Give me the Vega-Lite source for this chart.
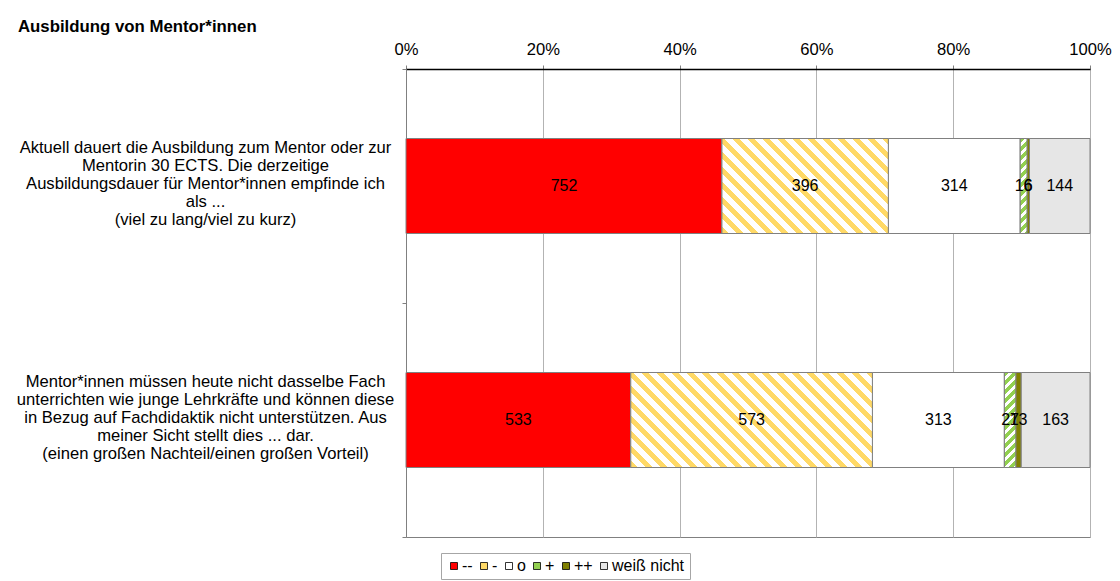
{
  "$schema": "https://vega.github.io/schema/vega-lite/v6.json",
  "width": 684,
  "height": 468,
  "autosize": {"type": "none"},
  "padding": {"left": 406, "top": 69, "right": 30, "bottom": 44},
  "background": "white",
  "title": {"text": "Ausbildung von Mentor*innen", "anchor": "start", "frame": "group", "dx": -388, "offset": 5, "font": "Liberation Sans", "fontSize": 16.8, "fontWeight": "bold", "color": "black"},
  "config": {"font": "Liberation Sans", "view": {"stroke": "#808080", "strokeWidth": 1}},
  "data": {"values": [
    {"q": "Aktuell dauert die Ausbildung zum Mentor oder zur|Mentorin 30 ECTS. Die derzeitige|Ausbildungsdauer für Mentor*innen empfinde ich|als ...|(viel zu lang/viel zu kurz)", "a": "--", "k": 1, "n": 752},
    {"q": "Aktuell dauert die Ausbildung zum Mentor oder zur|Mentorin 30 ECTS. Die derzeitige|Ausbildungsdauer für Mentor*innen empfinde ich|als ...|(viel zu lang/viel zu kurz)", "a": "-", "k": 2, "n": 396},
    {"q": "Aktuell dauert die Ausbildung zum Mentor oder zur|Mentorin 30 ECTS. Die derzeitige|Ausbildungsdauer für Mentor*innen empfinde ich|als ...|(viel zu lang/viel zu kurz)", "a": "o", "k": 3, "n": 314},
    {"q": "Aktuell dauert die Ausbildung zum Mentor oder zur|Mentorin 30 ECTS. Die derzeitige|Ausbildungsdauer für Mentor*innen empfinde ich|als ...|(viel zu lang/viel zu kurz)", "a": "+", "k": 4, "n": 16},
    {"q": "Aktuell dauert die Ausbildung zum Mentor oder zur|Mentorin 30 ECTS. Die derzeitige|Ausbildungsdauer für Mentor*innen empfinde ich|als ...|(viel zu lang/viel zu kurz)", "a": "++", "k": 5, "n": 6},
    {"q": "Aktuell dauert die Ausbildung zum Mentor oder zur|Mentorin 30 ECTS. Die derzeitige|Ausbildungsdauer für Mentor*innen empfinde ich|als ...|(viel zu lang/viel zu kurz)", "a": "weiß nicht", "k": 6, "n": 144},
    {"q": "Mentor*innen müssen heute nicht dasselbe Fach|unterrichten wie junge Lehrkräfte und können diese|in Bezug auf Fachdidaktik nicht unterstützen. Aus|meiner Sicht stellt dies ... dar.|(einen großen Nachteil/einen großen Vorteil)", "a": "--", "k": 1, "n": 533},
    {"q": "Mentor*innen müssen heute nicht dasselbe Fach|unterrichten wie junge Lehrkräfte und können diese|in Bezug auf Fachdidaktik nicht unterstützen. Aus|meiner Sicht stellt dies ... dar.|(einen großen Nachteil/einen großen Vorteil)", "a": "-", "k": 2, "n": 573},
    {"q": "Mentor*innen müssen heute nicht dasselbe Fach|unterrichten wie junge Lehrkräfte und können diese|in Bezug auf Fachdidaktik nicht unterstützen. Aus|meiner Sicht stellt dies ... dar.|(einen großen Nachteil/einen großen Vorteil)", "a": "o", "k": 3, "n": 313},
    {"q": "Mentor*innen müssen heute nicht dasselbe Fach|unterrichten wie junge Lehrkräfte und können diese|in Bezug auf Fachdidaktik nicht unterstützen. Aus|meiner Sicht stellt dies ... dar.|(einen großen Nachteil/einen großen Vorteil)", "a": "+", "k": 4, "n": 27},
    {"q": "Mentor*innen müssen heute nicht dasselbe Fach|unterrichten wie junge Lehrkräfte und können diese|in Bezug auf Fachdidaktik nicht unterstützen. Aus|meiner Sicht stellt dies ... dar.|(einen großen Nachteil/einen großen Vorteil)", "a": "++", "k": 5, "n": 13},
    {"q": "Mentor*innen müssen heute nicht dasselbe Fach|unterrichten wie junge Lehrkräfte und können diese|in Bezug auf Fachdidaktik nicht unterstützen. Aus|meiner Sicht stellt dies ... dar.|(einen großen Nachteil/einen großen Vorteil)", "a": "weiß nicht", "k": 6, "n": 163}
  ]},
  "encoding": {
    "y": {"field": "q", "type": "nominal", "sort": null, "scale": {"paddingInner": 0, "paddingOuter": 0},
      "axis": {"title": null, "labelExpr": "datum.value ? split(datum.value, '|') : ''", "labelAlign": "center", "labelBaseline": "middle", "labelPadding": 197, "labelOffset": -39, "labelLimit": 0, "labelFontSize": 16.6, "labelFont": "Liberation Sans", "labelColor": "black", "labelLineHeight": 18, "tickBand": "extent", "tickSize": 4, "tickColor": "#808080", "domainColor": "#808080", "labelOverlap": false}},
    "x": {"field": "n", "type": "quantitative", "stack": "normalize", "scale": {"domain": [0, 1], "nice": false},
      "axis": {"orient": "top", "title": null, "values": [0, 0.2, 0.4, 0.6, 0.8, 1], "format": ".0%", "labelFontSize": 16.6, "labelFont": "Liberation Sans", "labelColor": "black", "labelPadding": 8, "labelFlush": false, "tickSize": 4, "tickColor": "#808080", "domainColor": "black", "domainWidth": 1.5, "grid": true, "gridColor": "#B3B3B3", "gridWidth": 1}},
    "order": {"field": "k", "type": "quantitative"}
  },
  "layer": [
    {
      "mark": {"type": "bar", "size": 95, "stroke": "#808080", "strokeWidth": 1},
      "encoding": {
        "color": {"field": "a", "type": "nominal",
          "scale": {"domain": ["--", "-", "o", "+", "++", "weiß nicht"], "range": ["#FF0000", "#FFD966", "#FFFFFF", "#92D050", "#808000", "#E6E6E6"]},
          "legend": {"orient": "none", "legendX": 35, "legendY": 484, "direction": "horizontal", "title": null, "symbolType": "square", "symbolSize": 49, "symbolStrokeColor": "black", "symbolStrokeWidth": 0.8, "symbolOpacity": 1, "labelFontSize": 16, "labelFont": "Liberation Sans", "labelColor": "black", "labelOffset": 0, "columnPadding": 3, "strokeColor": "#A6A6A6", "padding": 5}}
      }
    },
    {
      "mark": {"type": "bar", "size": 95, "stroke": "#808080", "strokeWidth": 1,
        "fill": {"gradient": "linear", "x1": 0, "y1": 1, "x2": 1.541, "y2": 0.1202, "stops": [
          {"offset": 0, "color": "#FFD966"}, {"offset": 0.0221, "color": "#FFD966"}, {"offset": 0.0221, "color": "#FFFFFF"}, {"offset": 0.0441, "color": "#FFFFFF"},
          {"offset": 0.0441, "color": "#FFD966"}, {"offset": 0.0662, "color": "#FFD966"}, {"offset": 0.0662, "color": "#FFFFFF"}, {"offset": 0.0882, "color": "#FFFFFF"},
          {"offset": 0.0882, "color": "#FFD966"}, {"offset": 0.1103, "color": "#FFD966"}, {"offset": 0.1103, "color": "#FFFFFF"}, {"offset": 0.1324, "color": "#FFFFFF"},
          {"offset": 0.1324, "color": "#FFD966"}, {"offset": 0.1544, "color": "#FFD966"}, {"offset": 0.1544, "color": "#FFFFFF"}, {"offset": 0.1765, "color": "#FFFFFF"},
          {"offset": 0.1765, "color": "#FFD966"}, {"offset": 0.1985, "color": "#FFD966"}, {"offset": 0.1985, "color": "#FFFFFF"}, {"offset": 0.2206, "color": "#FFFFFF"},
          {"offset": 0.2206, "color": "#FFD966"}, {"offset": 0.2426, "color": "#FFD966"}, {"offset": 0.2426, "color": "#FFFFFF"}, {"offset": 0.2647, "color": "#FFFFFF"},
          {"offset": 0.2647, "color": "#FFD966"}, {"offset": 0.2868, "color": "#FFD966"}, {"offset": 0.2868, "color": "#FFFFFF"}, {"offset": 0.3088, "color": "#FFFFFF"},
          {"offset": 0.3088, "color": "#FFD966"}, {"offset": 0.3309, "color": "#FFD966"}, {"offset": 0.3309, "color": "#FFFFFF"}, {"offset": 0.3529, "color": "#FFFFFF"},
          {"offset": 0.3529, "color": "#FFD966"}, {"offset": 0.375, "color": "#FFD966"}, {"offset": 0.375, "color": "#FFFFFF"}, {"offset": 0.3971, "color": "#FFFFFF"},
          {"offset": 0.3971, "color": "#FFD966"}, {"offset": 0.4191, "color": "#FFD966"}, {"offset": 0.4191, "color": "#FFFFFF"}, {"offset": 0.4412, "color": "#FFFFFF"},
          {"offset": 0.4412, "color": "#FFD966"}, {"offset": 0.4632, "color": "#FFD966"}, {"offset": 0.4632, "color": "#FFFFFF"}, {"offset": 0.4853, "color": "#FFFFFF"},
          {"offset": 0.4853, "color": "#FFD966"}, {"offset": 0.5074, "color": "#FFD966"}, {"offset": 0.5074, "color": "#FFFFFF"}, {"offset": 0.5294, "color": "#FFFFFF"},
          {"offset": 0.5294, "color": "#FFD966"}, {"offset": 0.5515, "color": "#FFD966"}, {"offset": 0.5515, "color": "#FFFFFF"}, {"offset": 0.5735, "color": "#FFFFFF"},
          {"offset": 0.5735, "color": "#FFD966"}, {"offset": 0.5956, "color": "#FFD966"}, {"offset": 0.5956, "color": "#FFFFFF"}, {"offset": 0.6176, "color": "#FFFFFF"},
          {"offset": 0.6176, "color": "#FFD966"}, {"offset": 0.6397, "color": "#FFD966"}, {"offset": 0.6397, "color": "#FFFFFF"}, {"offset": 0.6618, "color": "#FFFFFF"},
          {"offset": 0.6618, "color": "#FFD966"}, {"offset": 0.6838, "color": "#FFD966"}, {"offset": 0.6838, "color": "#FFFFFF"}, {"offset": 0.7059, "color": "#FFFFFF"},
          {"offset": 0.7059, "color": "#FFD966"}, {"offset": 0.7279, "color": "#FFD966"}, {"offset": 0.7279, "color": "#FFFFFF"}, {"offset": 0.75, "color": "#FFFFFF"},
          {"offset": 0.75, "color": "#FFD966"}, {"offset": 0.7721, "color": "#FFD966"}, {"offset": 0.7721, "color": "#FFFFFF"}, {"offset": 0.7941, "color": "#FFFFFF"},
          {"offset": 0.7941, "color": "#FFD966"}, {"offset": 0.8162, "color": "#FFD966"}, {"offset": 0.8162, "color": "#FFFFFF"}, {"offset": 0.8382, "color": "#FFFFFF"},
          {"offset": 0.8382, "color": "#FFD966"}, {"offset": 0.8603, "color": "#FFD966"}, {"offset": 0.8603, "color": "#FFFFFF"}, {"offset": 0.8824, "color": "#FFFFFF"},
          {"offset": 0.8824, "color": "#FFD966"}, {"offset": 0.9044, "color": "#FFD966"}, {"offset": 0.9044, "color": "#FFFFFF"}, {"offset": 0.9265, "color": "#FFFFFF"},
          {"offset": 0.9265, "color": "#FFD966"}, {"offset": 0.9485, "color": "#FFD966"}, {"offset": 0.9485, "color": "#FFFFFF"}, {"offset": 0.9706, "color": "#FFFFFF"},
          {"offset": 0.9706, "color": "#FFD966"}, {"offset": 0.9926, "color": "#FFD966"}, {"offset": 0.9926, "color": "#FFFFFF"}, {"offset": 1, "color": "#FFFFFF"}
        ]}},
      "encoding": {"opacity": {"condition": {"test": "datum.a == '-' && indexof(datum.q, 'Aktuell') == 0", "value": 1}, "value": 0}}
    },
    {
      "mark": {"type": "bar", "size": 95, "stroke": "#808080", "strokeWidth": 1,
        "fill": {"gradient": "linear", "x1": 0, "y1": 1, "x2": 1.2189, "y2": 0.5207, "stops": [
          {"offset": 0, "color": "#FFD966"}, {"offset": 0.0221, "color": "#FFD966"}, {"offset": 0.0221, "color": "#FFFFFF"}, {"offset": 0.0441, "color": "#FFFFFF"},
          {"offset": 0.0441, "color": "#FFD966"}, {"offset": 0.0662, "color": "#FFD966"}, {"offset": 0.0662, "color": "#FFFFFF"}, {"offset": 0.0882, "color": "#FFFFFF"},
          {"offset": 0.0882, "color": "#FFD966"}, {"offset": 0.1103, "color": "#FFD966"}, {"offset": 0.1103, "color": "#FFFFFF"}, {"offset": 0.1324, "color": "#FFFFFF"},
          {"offset": 0.1324, "color": "#FFD966"}, {"offset": 0.1544, "color": "#FFD966"}, {"offset": 0.1544, "color": "#FFFFFF"}, {"offset": 0.1765, "color": "#FFFFFF"},
          {"offset": 0.1765, "color": "#FFD966"}, {"offset": 0.1985, "color": "#FFD966"}, {"offset": 0.1985, "color": "#FFFFFF"}, {"offset": 0.2206, "color": "#FFFFFF"},
          {"offset": 0.2206, "color": "#FFD966"}, {"offset": 0.2426, "color": "#FFD966"}, {"offset": 0.2426, "color": "#FFFFFF"}, {"offset": 0.2647, "color": "#FFFFFF"},
          {"offset": 0.2647, "color": "#FFD966"}, {"offset": 0.2868, "color": "#FFD966"}, {"offset": 0.2868, "color": "#FFFFFF"}, {"offset": 0.3088, "color": "#FFFFFF"},
          {"offset": 0.3088, "color": "#FFD966"}, {"offset": 0.3309, "color": "#FFD966"}, {"offset": 0.3309, "color": "#FFFFFF"}, {"offset": 0.3529, "color": "#FFFFFF"},
          {"offset": 0.3529, "color": "#FFD966"}, {"offset": 0.375, "color": "#FFD966"}, {"offset": 0.375, "color": "#FFFFFF"}, {"offset": 0.3971, "color": "#FFFFFF"},
          {"offset": 0.3971, "color": "#FFD966"}, {"offset": 0.4191, "color": "#FFD966"}, {"offset": 0.4191, "color": "#FFFFFF"}, {"offset": 0.4412, "color": "#FFFFFF"},
          {"offset": 0.4412, "color": "#FFD966"}, {"offset": 0.4632, "color": "#FFD966"}, {"offset": 0.4632, "color": "#FFFFFF"}, {"offset": 0.4853, "color": "#FFFFFF"},
          {"offset": 0.4853, "color": "#FFD966"}, {"offset": 0.5074, "color": "#FFD966"}, {"offset": 0.5074, "color": "#FFFFFF"}, {"offset": 0.5294, "color": "#FFFFFF"},
          {"offset": 0.5294, "color": "#FFD966"}, {"offset": 0.5515, "color": "#FFD966"}, {"offset": 0.5515, "color": "#FFFFFF"}, {"offset": 0.5735, "color": "#FFFFFF"},
          {"offset": 0.5735, "color": "#FFD966"}, {"offset": 0.5956, "color": "#FFD966"}, {"offset": 0.5956, "color": "#FFFFFF"}, {"offset": 0.6176, "color": "#FFFFFF"},
          {"offset": 0.6176, "color": "#FFD966"}, {"offset": 0.6397, "color": "#FFD966"}, {"offset": 0.6397, "color": "#FFFFFF"}, {"offset": 0.6618, "color": "#FFFFFF"},
          {"offset": 0.6618, "color": "#FFD966"}, {"offset": 0.6838, "color": "#FFD966"}, {"offset": 0.6838, "color": "#FFFFFF"}, {"offset": 0.7059, "color": "#FFFFFF"},
          {"offset": 0.7059, "color": "#FFD966"}, {"offset": 0.7279, "color": "#FFD966"}, {"offset": 0.7279, "color": "#FFFFFF"}, {"offset": 0.75, "color": "#FFFFFF"},
          {"offset": 0.75, "color": "#FFD966"}, {"offset": 0.7721, "color": "#FFD966"}, {"offset": 0.7721, "color": "#FFFFFF"}, {"offset": 0.7941, "color": "#FFFFFF"},
          {"offset": 0.7941, "color": "#FFD966"}, {"offset": 0.8162, "color": "#FFD966"}, {"offset": 0.8162, "color": "#FFFFFF"}, {"offset": 0.8382, "color": "#FFFFFF"},
          {"offset": 0.8382, "color": "#FFD966"}, {"offset": 0.8603, "color": "#FFD966"}, {"offset": 0.8603, "color": "#FFFFFF"}, {"offset": 0.8824, "color": "#FFFFFF"},
          {"offset": 0.8824, "color": "#FFD966"}, {"offset": 0.9044, "color": "#FFD966"}, {"offset": 0.9044, "color": "#FFFFFF"}, {"offset": 0.9265, "color": "#FFFFFF"},
          {"offset": 0.9265, "color": "#FFD966"}, {"offset": 0.9485, "color": "#FFD966"}, {"offset": 0.9485, "color": "#FFFFFF"}, {"offset": 0.9706, "color": "#FFFFFF"},
          {"offset": 0.9706, "color": "#FFD966"}, {"offset": 0.9926, "color": "#FFD966"}, {"offset": 0.9926, "color": "#FFFFFF"}, {"offset": 1, "color": "#FFFFFF"}
        ]}},
      "encoding": {"opacity": {"condition": {"test": "datum.a == '-' && indexof(datum.q, 'Mentor*innen m') == 0", "value": 1}, "value": 0}}
    },
    {
      "mark": {"type": "bar", "size": 95, "stroke": "#808080", "strokeWidth": 1,
        "fill": {"gradient": "linear", "x1": 0, "y1": 0, "x2": 0.2512, "y2": 3.561, "stops": [
          {"offset": 0, "color": "#92D050"}, {"offset": 0.0132, "color": "#92D050"}, {"offset": 0.0132, "color": "#FFFFFF"}, {"offset": 0.0265, "color": "#FFFFFF"},
          {"offset": 0.0265, "color": "#92D050"}, {"offset": 0.0397, "color": "#92D050"}, {"offset": 0.0397, "color": "#FFFFFF"}, {"offset": 0.0529, "color": "#FFFFFF"},
          {"offset": 0.0529, "color": "#92D050"}, {"offset": 0.0662, "color": "#92D050"}, {"offset": 0.0662, "color": "#FFFFFF"}, {"offset": 0.0794, "color": "#FFFFFF"},
          {"offset": 0.0794, "color": "#92D050"}, {"offset": 0.0926, "color": "#92D050"}, {"offset": 0.0926, "color": "#FFFFFF"}, {"offset": 0.1059, "color": "#FFFFFF"},
          {"offset": 0.1059, "color": "#92D050"}, {"offset": 0.1191, "color": "#92D050"}, {"offset": 0.1191, "color": "#FFFFFF"}, {"offset": 0.1324, "color": "#FFFFFF"},
          {"offset": 0.1324, "color": "#92D050"}, {"offset": 0.1456, "color": "#92D050"}, {"offset": 0.1456, "color": "#FFFFFF"}, {"offset": 0.1588, "color": "#FFFFFF"},
          {"offset": 0.1588, "color": "#92D050"}, {"offset": 0.1721, "color": "#92D050"}, {"offset": 0.1721, "color": "#FFFFFF"}, {"offset": 0.1853, "color": "#FFFFFF"},
          {"offset": 0.1853, "color": "#92D050"}, {"offset": 0.1985, "color": "#92D050"}, {"offset": 0.1985, "color": "#FFFFFF"}, {"offset": 0.2118, "color": "#FFFFFF"},
          {"offset": 0.2118, "color": "#92D050"}, {"offset": 0.225, "color": "#92D050"}, {"offset": 0.225, "color": "#FFFFFF"}, {"offset": 0.2382, "color": "#FFFFFF"},
          {"offset": 0.2382, "color": "#92D050"}, {"offset": 0.2515, "color": "#92D050"}, {"offset": 0.2515, "color": "#FFFFFF"}, {"offset": 0.2647, "color": "#FFFFFF"},
          {"offset": 0.2647, "color": "#92D050"}, {"offset": 0.2779, "color": "#92D050"}, {"offset": 0.2779, "color": "#FFFFFF"}, {"offset": 0.2912, "color": "#FFFFFF"},
          {"offset": 0.2912, "color": "#92D050"}, {"offset": 0.3044, "color": "#92D050"}, {"offset": 0.3044, "color": "#FFFFFF"}, {"offset": 0.3176, "color": "#FFFFFF"},
          {"offset": 0.3176, "color": "#92D050"}, {"offset": 0.3309, "color": "#92D050"}, {"offset": 0.3309, "color": "#FFFFFF"}, {"offset": 1, "color": "#FFFFFF"}
        ]}},
      "encoding": {"opacity": {"condition": {"test": "datum.a == '+' && indexof(datum.q, 'Aktuell') == 0", "value": 1}, "value": 0}}
    },
    {
      "mark": {"type": "bar", "size": 95, "stroke": "#808080", "strokeWidth": 1,
        "fill": {"gradient": "linear", "x1": 0, "y1": 0, "x2": 0.4234, "y2": 3.528, "stops": [
          {"offset": 0, "color": "#92D050"}, {"offset": 0.0132, "color": "#92D050"}, {"offset": 0.0132, "color": "#FFFFFF"}, {"offset": 0.0265, "color": "#FFFFFF"},
          {"offset": 0.0265, "color": "#92D050"}, {"offset": 0.0397, "color": "#92D050"}, {"offset": 0.0397, "color": "#FFFFFF"}, {"offset": 0.0529, "color": "#FFFFFF"},
          {"offset": 0.0529, "color": "#92D050"}, {"offset": 0.0662, "color": "#92D050"}, {"offset": 0.0662, "color": "#FFFFFF"}, {"offset": 0.0794, "color": "#FFFFFF"},
          {"offset": 0.0794, "color": "#92D050"}, {"offset": 0.0926, "color": "#92D050"}, {"offset": 0.0926, "color": "#FFFFFF"}, {"offset": 0.1059, "color": "#FFFFFF"},
          {"offset": 0.1059, "color": "#92D050"}, {"offset": 0.1191, "color": "#92D050"}, {"offset": 0.1191, "color": "#FFFFFF"}, {"offset": 0.1324, "color": "#FFFFFF"},
          {"offset": 0.1324, "color": "#92D050"}, {"offset": 0.1456, "color": "#92D050"}, {"offset": 0.1456, "color": "#FFFFFF"}, {"offset": 0.1588, "color": "#FFFFFF"},
          {"offset": 0.1588, "color": "#92D050"}, {"offset": 0.1721, "color": "#92D050"}, {"offset": 0.1721, "color": "#FFFFFF"}, {"offset": 0.1853, "color": "#FFFFFF"},
          {"offset": 0.1853, "color": "#92D050"}, {"offset": 0.1985, "color": "#92D050"}, {"offset": 0.1985, "color": "#FFFFFF"}, {"offset": 0.2118, "color": "#FFFFFF"},
          {"offset": 0.2118, "color": "#92D050"}, {"offset": 0.225, "color": "#92D050"}, {"offset": 0.225, "color": "#FFFFFF"}, {"offset": 0.2382, "color": "#FFFFFF"},
          {"offset": 0.2382, "color": "#92D050"}, {"offset": 0.2515, "color": "#92D050"}, {"offset": 0.2515, "color": "#FFFFFF"}, {"offset": 0.2647, "color": "#FFFFFF"},
          {"offset": 0.2647, "color": "#92D050"}, {"offset": 0.2779, "color": "#92D050"}, {"offset": 0.2779, "color": "#FFFFFF"}, {"offset": 0.2912, "color": "#FFFFFF"},
          {"offset": 0.2912, "color": "#92D050"}, {"offset": 0.3044, "color": "#92D050"}, {"offset": 0.3044, "color": "#FFFFFF"}, {"offset": 0.3176, "color": "#FFFFFF"},
          {"offset": 0.3176, "color": "#92D050"}, {"offset": 0.3309, "color": "#92D050"}, {"offset": 0.3309, "color": "#FFFFFF"}, {"offset": 1, "color": "#FFFFFF"}
        ]}},
      "encoding": {"opacity": {"condition": {"test": "datum.a == '+' && indexof(datum.q, 'Mentor*innen m') == 0", "value": 1}, "value": 0}}
    },
    {
      "mark": {"type": "text", "font": "Liberation Sans", "fontSize": 16, "color": "black", "align": "center", "baseline": "middle"},
      "encoding": {
        "x": {"field": "n", "type": "quantitative", "stack": "normalize", "bandPosition": 0.5},
        "text": {"field": "n", "type": "quantitative", "format": "d"}
      }
    }
  ]
}
